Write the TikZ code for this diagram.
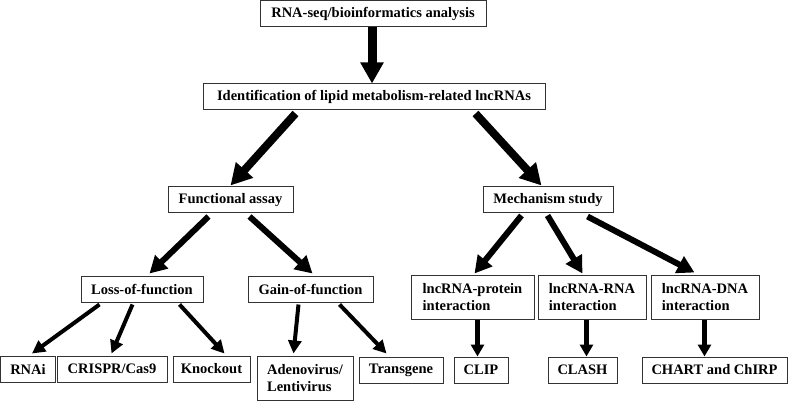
\documentclass[tikz,border=0pt]{standalone}
\usepackage{fontspec}
\setmainfont{Liberation Serif}
\usetikzlibrary{arrows.meta}
\begin{document}
\begin{tikzpicture}[x=1pt,y=-1pt,
  box/.style={draw=black!80, line width=1pt, inner sep=0pt, minimum height=26pt,
    font=\fontsize{14.5}{17}\selectfont\bfseries, align=center},
  tall/.style={minimum height=44pt, align=left},
  arA/.style={line width=9pt, -{Triangle[length=21pt,width=22pt]}},
  arB/.style={line width=8pt, -{Triangle[length=21pt,width=22pt]}},
  arC/.style={line width=6pt, -{Triangle[length=17pt,width=18pt]}},
  arD/.style={line width=4pt, -{Triangle[length=13pt,width=13pt]}},
  arE/.style={line width=4.5pt, -{Triangle[length=12pt,width=13pt]}}]
\useasboundingbox (0,0) rectangle (788,401);

\node[box, minimum width=226pt] (top) at (373,14) {RNA-seq/bioinformatics analysis};
\node[box, minimum width=342pt] (ident) at (374,97) {Identification of lipid metabolism-related lncRNAs};
\node[box, minimum width=125pt] (func) at (230.5,200) {Functional assay};
\node[box, minimum width=130pt] (mech) at (548,200) {Mechanism study};
\node[box, minimum width=122pt] (loss) at (142,289) {Loss-of-function};
\node[box, minimum width=125pt] (gain) at (310.5,289) {Gain-of-function};
\node[box, minimum width=55pt] (rnai) at (28,369) {RNAi};
\node[box, minimum width=110pt] (crispr) at (112,369) {CRISPR/Cas9};
\node[box, minimum width=77pt] (ko) at (211.5,369) {Knockout};
\node[box, tall, minimum width=96pt] (adeno) at (305,378) {Adenovirus/\\Lentivirus};
\node[box, minimum width=84pt] (trans) at (401,370) {Transgene};
\node[box, tall, minimum width=123pt] (prot) at (472.5,297) {lncRNA-protein\\interaction};
\node[box, tall, minimum width=108pt] (rna) at (592,297) {lncRNA-RNA\\interaction};
\node[box, tall, minimum width=108pt] (dna) at (705,297) {lncRNA-DNA\\interaction};
\node[box, minimum width=54pt] (clip) at (481,370) {CLIP};
\node[box, minimum width=69pt] (clash) at (582.5,370) {CLASH};
\node[box, minimum width=145pt] (chart) at (714.5,370) {CHART and ChIRP};

\draw[arA] ([xshift=-1pt]top.south) -- ([xshift=-2pt]ident.north);
\draw[arB] ([xshift=93pt,yshift=-3pt]ident.south west) -- ([yshift=1pt]func.north);
\draw[arB] ([xshift=273pt,yshift=-3pt]ident.south west) -- ([xshift=59pt,yshift=1pt]mech.north west);

\draw[arC] ([xshift=41pt,yshift=-3pt]func.south west) -- ([xshift=69pt,yshift=2pt]loss.north west);
\draw[arC] ([xshift=82pt,yshift=-3pt]func.south west) -- ([xshift=65pt,yshift=2pt]gain.north west);

\draw[arD] ([xshift=19pt,yshift=-2pt]loss.south west) -- ([xshift=32pt,yshift=2pt]rnai.north west);
\draw[arD] ([xshift=52pt,yshift=-2pt]loss.south west) -- ([xshift=55pt,yshift=2pt]crispr.north west);
\draw[arD] ([xshift=99pt,yshift=-2pt]loss.south west) -- ([xshift=52pt,yshift=2pt]ko.north west);
\draw[arD] ([xshift=51pt,yshift=-2pt]gain.south west) -- ([xshift=37pt,yshift=2pt]adeno.north west);
\draw[arD] ([xshift=92pt,yshift=-2pt]gain.south west) -- ([xshift=28pt,yshift=3pt]trans.north west);

\draw[arC] ([xshift=39pt,yshift=-2pt]mech.south west) -- ([xshift=64pt,yshift=1pt]prot.north west);
\draw[arC] ([xshift=65pt,yshift=-2pt]mech.south west) -- ([xshift=45pt,yshift=1pt]rna.north west);
\draw[arC] ([xshift=105pt,yshift=-3pt]mech.south west) -- ([xshift=44pt,yshift=2pt]dna.north west);

\coordinate (p1) at ([xshift=67pt]prot.south west);
\coordinate (p2) at ([xshift=49pt]rna.south west);
\coordinate (p3) at ([xshift=54pt]dna.south west);
\draw[arE] (p1) -- (p1 |- clip.north);
\draw[arE] (p2) -- (p2 |- clash.north);
\draw[arE] (p3) -- (p3 |- chart.north);
\end{tikzpicture}
\end{document}
